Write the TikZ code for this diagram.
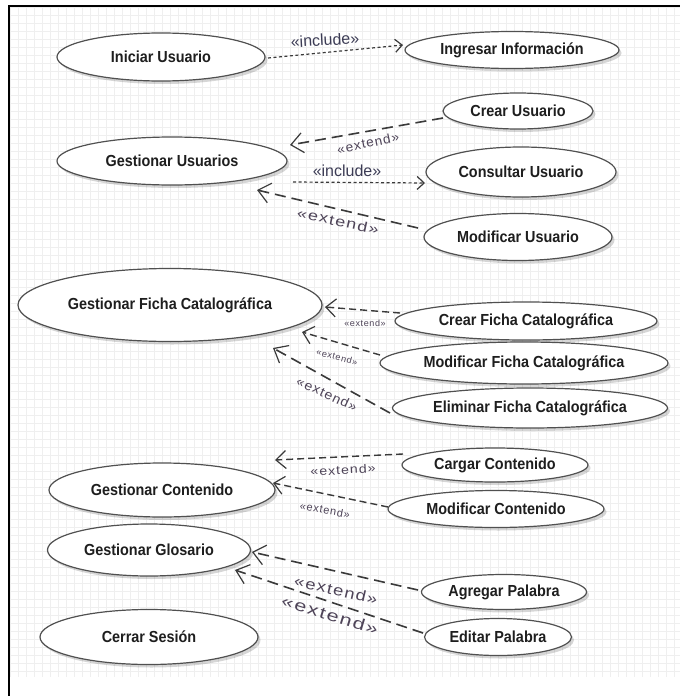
\documentclass[tikz,border=0pt]{standalone}
\usepackage{fontspec}
\usetikzlibrary{shapes.geometric,arrows.meta,calc,shadows}
\newfontfamily\ucfont[FakeStretch=0.9]{Liberation Sans}
\newfontfamily\lblfont{Liberation Sans}
\newfontfamily\extfont[LetterSpace=7]{Liberation Sans}
\definecolor{ellcol}{HTML}{505050}
\definecolor{linecol}{HTML}{3A3A3A}
\definecolor{textcol}{HTML}{1E1E1E}
\definecolor{inclcol}{HTML}{3C3C55}
\definecolor{extcol}{HTML}{4E4458}
\definecolor{gridcol}{HTML}{EFEFEF}
\newcommand\ExtLbl[2]{\scalebox{#2}[1]{\extfont\fontsize{#1}{#1}\selectfont «extend»}}
\tikzset{
  uc/.style={ellipse, draw=ellcol, line width=1.2pt, fill=white, inner sep=0pt,
    font={\ucfont\bfseries\fontsize{16}{18}\selectfont}, text=textcol,
    drop shadow={shadow xshift=2.5pt, shadow yshift=-3pt, opacity=0.16, fill=black}},
  incl/.style={draw=linecol, line width=1.2pt, dash pattern=on 3pt off 2.5pt,
    -{Straight Barb[length=7pt,width=13pt,line width=1.2pt]}},
  extl/.style={draw=linecol, line width=1.6pt, dash pattern=on 11pt off 6pt,
    -{Straight Barb[length=12pt,width=20pt,line width=1.2pt]}},
  exts/.style={draw=linecol, line width=1.4pt, dash pattern=on 7pt off 4pt,
    -{Straight Barb[length=10pt,width=18pt,line width=1.2pt]}},
  incllbl/.style={inner sep=0pt, text=inclcol, font={\lblfont\fontsize{16}{18}\selectfont}},
  extlbl/.style={inner sep=0pt, text=extcol}
}
\begin{document}
\begin{tikzpicture}[x=1pt,y=-1pt]
\useasboundingbox (0,0) rectangle (680,696);
\fill[white] (0,0) rectangle (680,696);
% grid background
\foreach \gx in {10,18,...,680} \draw[gridcol, line width=0.5pt] (\gx,7) -- (\gx,677);
\foreach \gy in {7,15,...,677} \draw[gridcol, line width=0.5pt] (10,\gy) -- (680,\gy);
% frame
\draw[black, line width=2.2pt] (9,696) -- (9,6) -- (680,6);

% use cases
\node[uc, minimum width=208pt, minimum height=48pt] (ini) at (161,57) {Iniciar Usuario};
\node[uc, minimum width=214pt, minimum height=37pt] (ing) at (512,50) {Ingresar Información};
\node[uc, minimum width=230pt, minimum height=48pt] (gu) at (172,161) {Gestionar Usuarios};
\node[uc, minimum width=150pt, minimum height=36pt] (cu) at (518,111) {Crear Usuario};
\node[uc, minimum width=190pt, minimum height=50pt] (conu) at (521,172) {Consultar Usuario};
\node[uc, minimum width=188pt, minimum height=47pt] (modu) at (518,237) {Modificar Usuario};
\node[uc, minimum width=304pt, minimum height=73pt] (gf) at (170,305) {Gestionar Ficha Catalográfica};
\node[uc, minimum width=262pt, minimum height=38pt] (cf) at (526,321) {Crear Ficha Catalográfica};
\node[uc, minimum width=288pt, minimum height=42pt] (mf) at (524,363) {Modificar Ficha Catalográfica};
\node[uc, minimum width=275pt, minimum height=40pt] (ef) at (530,408) {Eliminar Ficha Catalográfica};
\node[uc, minimum width=226pt, minimum height=54pt] (gc) at (162,490) {Gestionar Contenido};
\node[uc, minimum width=186pt, minimum height=34pt] (cc) at (495,465) {Cargar Contenido};
\node[uc, minimum width=216pt, minimum height=37pt] (mc) at (496,509) {Modificar Contenido};
\node[uc, minimum width=203pt, minimum height=52pt] (gg) at (149,550) {Gestionar Glosario};
\node[uc, minimum width=165pt, minimum height=35pt] (ap) at (504,592) {Agregar Palabra};
\node[uc, minimum width=147pt, minimum height=37pt] (ep) at (498,637) {Editar Palabra};
\node[uc, minimum width=218pt, minimum height=55pt] (cs) at (149,637) {Cerrar Sesión};

% connectors
\draw[incl] ($(ini.center)+(107,1)$) -- ($(ing.center)+(-109,-5)$);
\draw[extl] ($(cu.center)+(-75,7)$) -- ($(gu.center)+(118,-16)$);
\draw[incl] ($(gu.center)+(121,21)$) -- ($(conu.center)+(-96,11)$);
\draw[extl] ($(modu.center)+(-100,-9)$) -- ($(gu.center)+(85,29)$);
\draw[exts] ($(cf.center)+(-126,-8)$) -- ($(gf.center)+(155,2)$);
\draw[exts] ($(mf.center)+(-144,-8)$) -- ($(gf.center)+(132,27)$);
\draw[extl] ($(ef.center)+(-140,5)$) -- ($(gf.center)+(103,43)$);
\draw[exts] ($(cc.center)+(-92,-11)$) -- ($(gc.center)+(113,-30)$);
\draw[exts] ($(mc.center)+(-108,-2)$) -- ($(gc.center)+(111,-7)$);
\draw[extl] ($(ap.center)+(-86,-2)$) -- ($(gg.center)+(103,2)$);
\draw[extl] ($(ep.center)+(-75,-4)$) -- ($(gg.center)+(86,20)$);

% labels
\node[incllbl, rotate=3] (li1) at (325,40) {«include»};
\node[incllbl] (li2) at (347,171) {«include»};
\node[extlbl, rotate=12] (lcu) at (368,143) {\ExtLbl{13}{1.05}};
\node[extlbl, rotate=-12] (lmu) at (338,221) {\ExtLbl{14}{1.29}};
\node[extlbl] (lcf) at (365,323) {\ExtLbl{9}{1.0}};
\node[extlbl, rotate=-15] (lmf) at (337,357) {\ExtLbl{9}{1.02}};
\node[extlbl, rotate=-25] (lef) at (327,394) {\ExtLbl{13}{1.09}};
\node[extlbl, rotate=3] (lcc) at (343,470) {\ExtLbl{12}{1.18}};
\node[extlbl, rotate=-10] (lmc) at (325,510) {\ExtLbl{11}{1.0}};
\node[extlbl, rotate=-13] (lap) at (336,590) {\ExtLbl{15}{1.23}};
\node[extlbl, rotate=-17] (lep) at (330,615) {\ExtLbl{16}{1.36}};
\end{tikzpicture}
\end{document}
